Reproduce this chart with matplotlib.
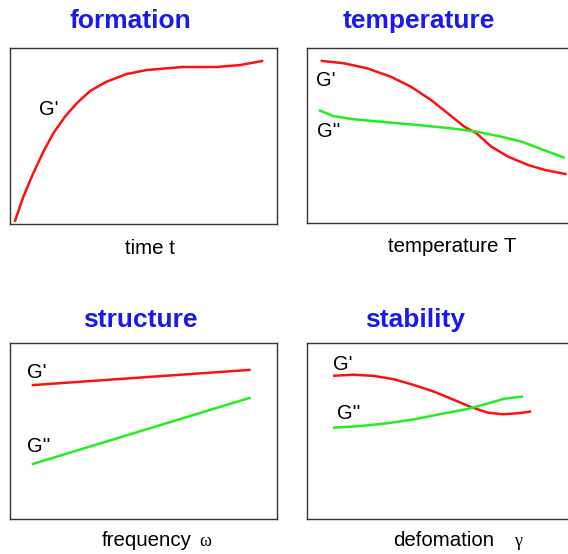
import matplotlib
matplotlib.use("Agg")
import matplotlib.pyplot as plt

W, H = 568, 554  # figure size in pixels

# curve data, in percent of each panel's box (x to the right, y upwards)
formation_x = [1.9, 5.0, 8.7, 12.5, 16.2, 20.6, 25.0, 30.0, 36.2, 43.7, 51.2,
               64.8, 77.5, 86.1, 94.4]
formation_g1 = [1.9, 15.5, 28.8, 41.1, 51.5, 61.0, 68.6, 75.6, 80.9, 85.2, 87.5,
                89.2, 89.2, 90.3, 92.6]

temp_x1 = [5.6, 13.8, 22.7, 31.6, 39.2, 46.8, 53.1, 59.4, 63.9, 69.6, 75.9,
           83.5, 89.8, 97.5]
temp_g1 = [92.6, 91.3, 88.4, 83.6, 77.9, 70.3, 62.7, 55.0, 51.3, 43.6, 37.9,
           33.1, 30.3, 28.0]
temp_x2 = [4.9, 10.0, 17.6, 29.0, 41.7, 54.4, 63.9, 73.4, 81.0, 88.6, 96.8]
temp_g2 = [64.2, 61.1, 59.3, 57.7, 56.0, 54.1, 52.2, 49.3, 46.5, 42.1, 37.5]

freq_x = [8.6, 89.7]
freq_g1 = [76.1, 84.7]
freq_g2 = [31.3, 68.8]

def_x1 = [10.3, 17.6, 25.2, 32.8, 40.4, 48.0, 55.6, 62.0, 68.3, 74.0, 79.7, 84.1]
def_g1 = [81.4, 82.0, 81.3, 79.4, 76.1, 72.3, 67.6, 63.5, 60.4, 59.5, 60.1, 61.0]
def_x2 = [10.3, 20.2, 30.3, 40.4, 50.6, 60.7, 68.3, 74.6, 81.0]
def_g2 = [51.9, 52.8, 54.4, 56.6, 59.7, 62.5, 65.7, 68.4, 69.5]

titles = ["formation", "temperature", "structure", "stability"]
xlabels = ["time t", "temperature T", "frequency", "defomation"]

RED = "#ff1010"
GREEN = "#22ee22"
BLUE = "#1a1aee"
LABEL_FONT = "Liberation Sans"
LW = 1.8


def fx(px):
    return px / W


def fy(py):
    return 1 - py / H


def make_axes(fig, left, top, right, bottom):
    ax = fig.add_axes([fx(left), fy(bottom), (right - left) / W, (bottom - top) / H])
    ax.set_xlim(0, 100)
    ax.set_ylim(0, 100)
    ax.set_xticks([])
    ax.set_yticks([])
    for s in ax.spines.values():
        s.set_color("#333333")
        s.set_linewidth(1.0)
    return ax


def glabel(ax, x, y, s):
    ax.text(x, y, s, fontsize=14.5, family=LABEL_FONT, ha="center", va="center")


fig = plt.figure(figsize=(W / 100, H / 100), dpi=100)

# formation
ax1 = make_axes(fig, 10, 48, 277, 224)
ax1.plot(formation_x, formation_g1, color=RED, lw=LW, solid_joinstyle="round")
glabel(ax1, 14.5, 65, "G'")

# temperature
ax2 = make_axes(fig, 307, 48, 572, 223)
ax2.plot(temp_x1, temp_g1, color=RED, lw=LW, solid_joinstyle="round")
ax2.plot(temp_x2, temp_g2, color=GREEN, lw=LW, solid_joinstyle="round")
glabel(ax2, 7.0, 81.5, "G'")
glabel(ax2, 8.2, 52, "G''")

# structure
ax3 = make_axes(fig, 10, 343, 277, 519)
ax3.plot(freq_x, freq_g1, color=RED, lw=LW)
ax3.plot(freq_x, freq_g2, color=GREEN, lw=LW)
glabel(ax3, 10.0, 83.5, "G'")
glabel(ax3, 10.6, 41, "G''")

# stability
ax4 = make_axes(fig, 307, 343, 572, 519)
ax4.plot(def_x1, def_g1, color=RED, lw=LW, solid_joinstyle="round")
ax4.plot(def_x2, def_g2, color=GREEN, lw=LW, solid_joinstyle="round")
glabel(ax4, 13.4, 87.5, "G'")
glabel(ax4, 15.8, 59.7, "G''")

# titles
title_pos = [(130, 28), (419, 28), (140, 327), (415, 327)]
for t, (x, y) in zip(titles, title_pos):
    fig.text(fx(x), fy(y), t, fontsize=19, fontweight="bold", color=BLUE,
             family=LABEL_FONT, ha="center", va="baseline")

# axis captions
label_pos = [(150, 254), (452, 252), (147, 546), (444, 546)]
for t, (x, y) in zip(xlabels, label_pos):
    fig.text(fx(x), fy(y), t, fontsize=14.8, family=LABEL_FONT,
             ha="center", va="baseline")
fig.text(fx(205), fy(546), "ω", fontsize=13, family="Liberation Serif",
         ha="center", va="baseline")
fig.text(fx(518), fy(546), "γ", fontsize=13, family="Liberation Serif",
         ha="center", va="baseline")

fig.savefig("out.png", dpi=100, facecolor="white")
